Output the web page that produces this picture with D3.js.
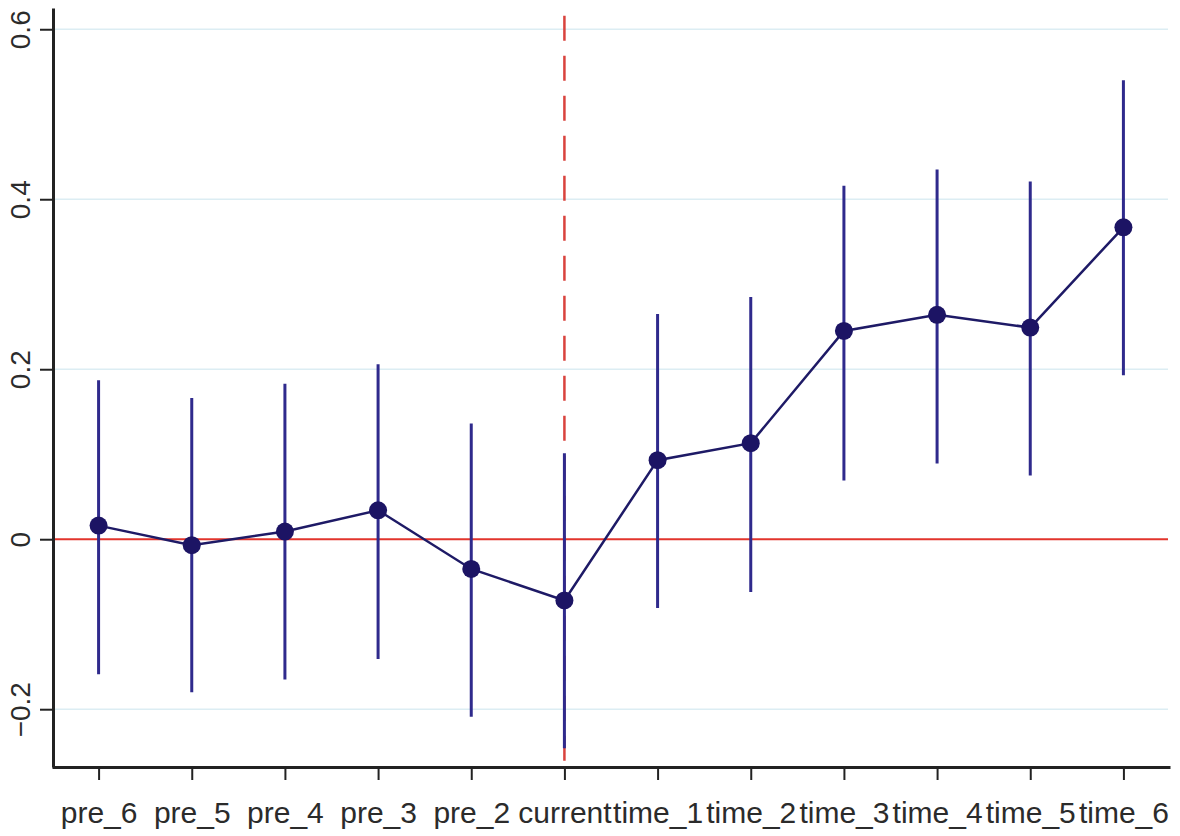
<!DOCTYPE html><meta charset="utf-8">
<style>*{margin:0}body{background:#fff}text{font-family:"Liberation Sans",Arial,sans-serif;fill:#2b2b2b}</style>
<svg width="1180" height="836"></svg>
<script src="https://d3js.org/d3.v7.min.js"></script>
<script>
const periods = ["pre_6","pre_5","pre_4","pre_3","pre_2","current","time_1","time_2","time_3","time_4","time_5","time_6"];
const coef  = [0.016,-0.007,0.009,0.034,-0.035,-0.072,0.093,0.113,0.245,0.264,0.249,0.367];
const upper = [0.187,0.166,0.183,0.206,0.136,0.101,0.265,0.285,0.416,0.435,0.421,0.540];
const lower = [-0.159,-0.180,-0.165,-0.141,-0.209,-0.246,-0.081,-0.062,0.069,0.089,0.075,0.193];
const yTicks = [-0.2,0,0.2,0.4,0.6];

const svg = d3.select("svg"),
      x = d3.scalePoint().domain(periods).range([52,1170]).padding(0.5),
      y = d3.scaleLinear().domain([-0.268,0.625]).range([767,8]);

const rows = periods.map((p,i)=>({p, b:coef[i], hi:upper[i], lo:lower[i]}));

// grid
svg.append("g").selectAll("line").data(yTicks.filter(v=>v!==0)).join("line")
   .attr("x1",55).attr("x2",1168).attr("y1",d=>y(d)).attr("y2",d=>y(d))
   .attr("stroke","#dcedf3").attr("stroke-width",1.5);

// reference lines
svg.append("line").attr("x1",55).attr("x2",1168).attr("y1",y(0)).attr("y2",y(0))
   .attr("stroke","#e2352c").attr("stroke-width",2);
svg.append("line").attr("x1",x("current")).attr("x2",x("current"))
   .attr("y1",y(0.616)).attr("y2",767)
   .attr("stroke","#d9433d").attr("stroke-width",2.5).attr("stroke-dasharray","25,15");

// confidence intervals
svg.append("g").selectAll("line").data(rows).join("line")
   .attr("x1",d=>x(d.p)).attr("x2",d=>x(d.p))
   .attr("y1",d=>y(d.hi)).attr("y2",d=>y(d.lo))
   .attr("stroke","#2f2a8c").attr("stroke-width",3);

// estimates
svg.append("path").datum(rows)
   .attr("fill","none").attr("stroke","#1e1a66").attr("stroke-width",2.5)
   .attr("d",d3.line().x(d=>x(d.p)).y(d=>y(d.b)));
svg.append("g").selectAll("circle").data(rows).join("circle")
   .attr("cx",d=>x(d.p)).attr("cy",d=>y(d.b)).attr("r",9)
   .attr("fill","#1c1464");

// axes
const fmt = v => v===0 ? "0" : (v<0 ? "\u2212" : "") + Math.abs(v).toFixed(1);
const ya = svg.append("g").attr("transform","translate(53,0)")
   .call(d3.axisLeft(y).tickValues(yTicks).tickFormat(fmt).tickSize(13).tickSizeOuter(0));
ya.select(".domain").attr("stroke","#222").attr("stroke-width",3);
ya.selectAll(".tick line").attr("stroke","#222").attr("stroke-width",2);
ya.selectAll(".tick text").attr("font-size",28).attr("text-anchor","middle")
  .attr("x",0).attr("y",-23).attr("dy",0).attr("transform","rotate(-90)");

const xa = svg.append("g").attr("transform","translate(0,767)")
   .call(d3.axisBottom(x).tickSize(13).tickSizeOuter(0));
xa.select(".domain").attr("stroke","#222").attr("stroke-width",3);
xa.selectAll(".tick line").attr("stroke","#222").attr("stroke-width",2);
xa.selectAll(".tick text").attr("font-size",30).attr("y",56).attr("dy",0);
ya.raise();
</script>
